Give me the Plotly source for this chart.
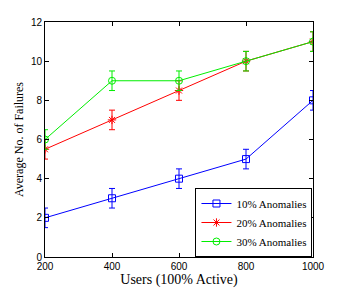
import plotly.graph_objects as go

users = [200, 400, 600, 800, 1000]
s10 = [2, 3, 4, 5, 8]
s20 = [5.5, 7, 8.5, 10, 11]
s30 = [6, 9, 9, 10, 11]
err10 = [0.5, 0.5, 0.5, 0.5, 0.5]
err20 = [0.5, 0.5, 0.5, 0.5, 0.5]
err30 = [0.5, 0.5, 0.5, 0.5, 0.5]
names = ["10% Anomalies", "20% Anomalies", "30% Anomalies"]
colors = ["#0000ff", "#ff0000", "#00ee00"]
symbols = ["square-open", "asterisk-open", "circle-open"]

fig = go.Figure()
for ys, es, nm, c, sym in zip([s10, s20, s30], [err10, err20, err30], names, colors, symbols):
    fig.add_trace(go.Scatter(
        x=users, y=ys, name=nm, mode="lines+markers",
        line=dict(color=c, width=1),
        marker=dict(symbol=sym, size=7, color=c, line=dict(color=c, width=1)),
        error_y=dict(type="data", array=es, visible=True, color=c, thickness=1, width=3),
    ))

axis_common = dict(
    showgrid=False, zeroline=False, showline=True, linecolor="black", linewidth=1,
    mirror="ticks", ticks="inside", ticklen=4, tickcolor="black", automargin=False,
    tickfont=dict(family="Liberation Sans", size=10, color="black"),
)
fig.update_xaxes(range=[200, 1000], tickvals=[200, 400, 600, 800, 1000],
                 title=dict(text="Users (100% Active)", font=dict(family="Liberation Serif", size=14, color="black"), standoff=3),
                 **axis_common)
fig.update_yaxes(range=[0, 12], tickvals=[0, 2, 4, 6, 8, 10, 12],
                 title=dict(text="Average No. of Failures", font=dict(family="Liberation Serif", size=12, color="black"), standoff=4),
                 **axis_common)
fig.update_layout(
    width=346, height=289,
    margin=dict(l=45, r=33, t=22, b=32),
    plot_bgcolor="white", paper_bgcolor="white",
    legend=dict(x=0.998, y=0.0, xanchor="right", yanchor="bottom",
                bgcolor="white", bordercolor="black", borderwidth=1,
                font=dict(family="Liberation Serif", size=11, color="black"),
                tracegroupgap=0, itemwidth=30),
)
fig.write_html("out.html", config={"displayModeBar": False},
               post_script="document.body.style.margin='0';")
